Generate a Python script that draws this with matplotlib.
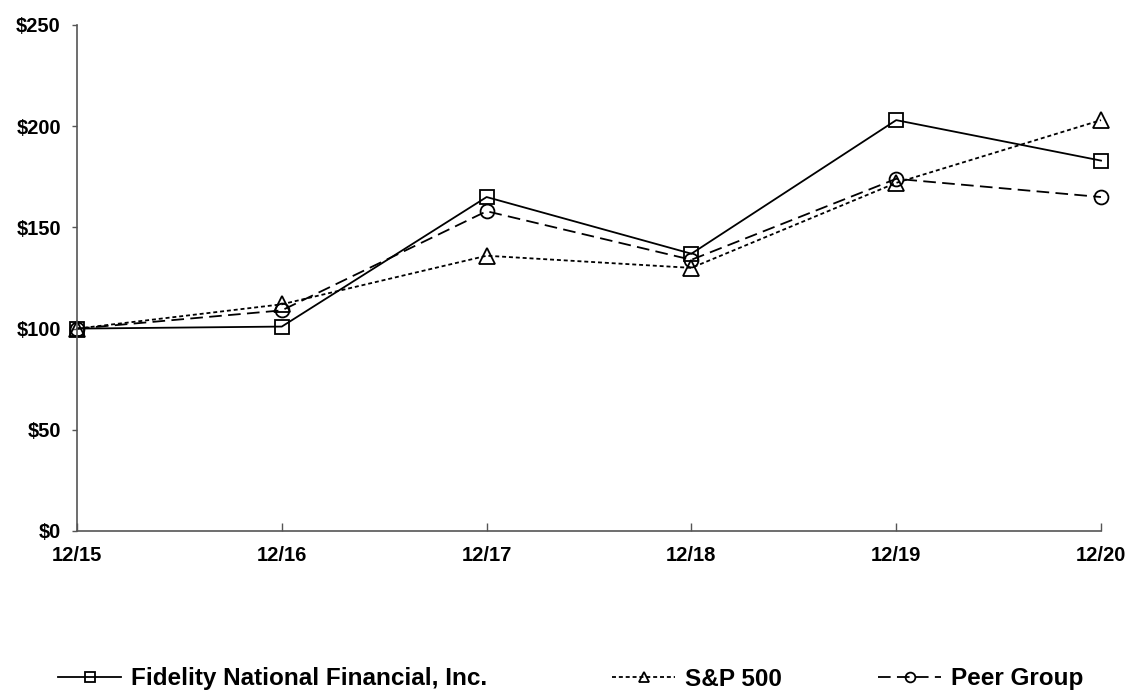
import matplotlib
matplotlib.use("Agg")
import matplotlib.pyplot as plt

plt.rcParams['font.family'] = ['Liberation Sans', 'DejaVu Sans']

periods = ["12/15", "12/16", "12/17", "12/18", "12/19", "12/20"]
fidelity = [100, 101, 165, 137, 203, 183]
sp500 = [100, 112, 136, 130, 172, 203]
peer = [100, 109, 158, 134, 174, 165]
y_ticks = [0, 50, 100, 150, 200, 250]
y_labels = ["$0", "$50", "$100", "$150", "$200", "$250"]
series_names = ["Fidelity National Financial, Inc.", "S&P 500", "Peer Group"]

fig = plt.figure(figsize=(11.28, 6.9), dpi=100)
ax = fig.add_axes([77/1128, 1-531/690, (1101-77)/1128, (531-25)/690])

x = list(range(len(periods)))
common = dict(color='black', markerfacecolor='none', markeredgecolor='black',
              markeredgewidth=1.3, clip_on=False)
l1, = ax.plot(x, fidelity, linestyle='-', linewidth=1.3, marker='s', markersize=10.5, **common)
l2, = ax.plot(x, sp500, linestyle=(0, (2.2, 1.6)), linewidth=1.3, marker='^', markersize=11, **common)
l3, = ax.plot(x, peer, linestyle=(0, (7, 3.5)), linewidth=1.3, marker='o', markersize=10, **common)

ax.set_xlim(0, 5)
ax.set_ylim(0, 250)
ax.set_xticks(x)
ax.set_xticklabels(periods, fontsize=14.5, fontweight='bold')
ax.set_yticks(y_ticks)
ax.set_yticklabels(y_labels, fontsize=14.5, fontweight='bold')
ax.tick_params(axis='y', direction='out', length=3.6, width=1, color='#555555', pad=8)
ax.tick_params(axis='x', direction='in', length=6, width=1, color='#555555', pad=10.5)
for s in ['top', 'right']:
    ax.spines[s].set_visible(False)
for s in ['left', 'bottom']:
    ax.spines[s].set_color('#555555')
    ax.spines[s].set_linewidth(1.2)

# Legend entries placed individually along the bottom
legend_x = [58/1128, 612/1128, 878/1128]
for handle, name, lx in zip([l1, l2, l3], series_names, legend_x):
    fig.legend([handle], [name], loc='center left', bbox_to_anchor=(lx, 11/690),
               frameon=False, handlelength=2.6, handletextpad=0.4,
               prop={'weight': 'bold', 'size': 17.5}, markerscale=0.7,
               borderaxespad=0, borderpad=0)

fig.savefig("out.png", dpi=100)
